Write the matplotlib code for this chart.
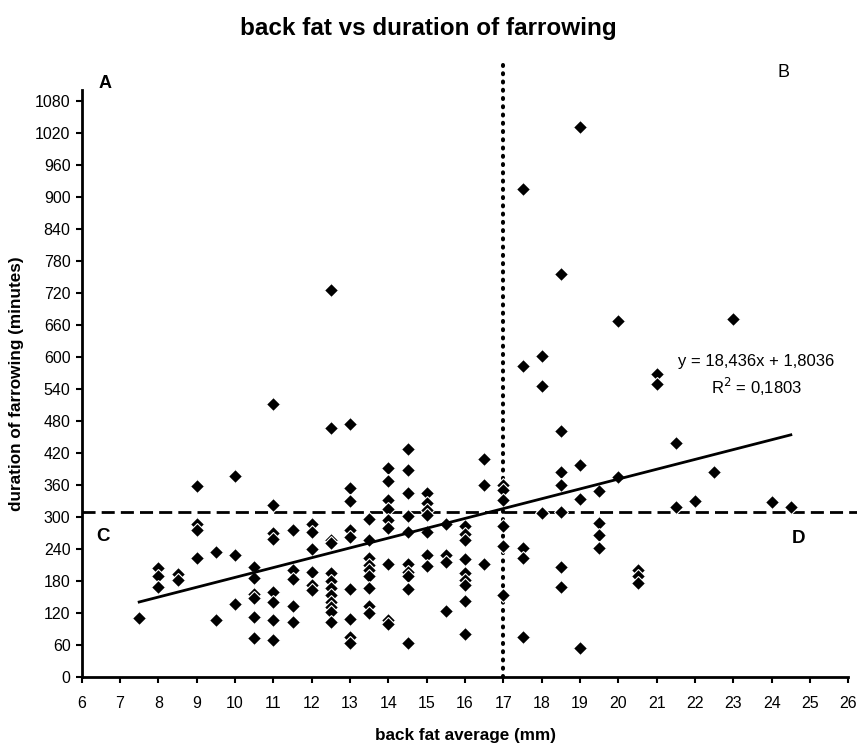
import matplotlib
matplotlib.use("Agg")
import matplotlib.pyplot as plt
import numpy as np

plt.rcParams['font.family'] = ['Liberation Sans', 'DejaVu Sans']

# --- data: back fat (mm) -> duration of farrowing (min) ---
back_fat = (
    [7.5] * 1 + [8.0] * 3 + [8.5] * 2 + [9.0] * 4 + [9.5] * 2 + [10.0] * 3 +
    [10.5] * 6 + [11.0] * 8 + [11.5] * 5 + [12.0] * 6 + [12.5] * 12 +
    [13.0] * 9 + [13.5] * 9 + [14.0] * 9 + [14.5] * 10 + [15.0] * 7 +
    [15.5] * 4 + [16.0] * 9 + [16.5] * 3 + [17.0] * 6 + [17.5] * 5 +
    [18.0] * 3 + [18.5] * 7 + [19.0] * 4 + [19.5] * 4 + [20.0] * 2 +
    [20.5] * 3 + [21.0] * 2 + [21.5] * 2 + [22.0] + [22.5] + [23.0] +
    [24.0] + [24.5]
)
duration = [
    110,
    203, 189, 169,
    192, 181,
    358, 286, 276, 223,
    233, 106,
    376, 228, 136,
    205, 186, 156, 147, 112, 72,
    512, 322, 269, 259, 159, 141, 106, 69,
    275, 201, 184, 132, 103,
    287, 272, 240, 196, 172, 162,
    725, 467, 256, 250, 195, 180, 166, 153, 141, 131, 122, 103,
    473, 353, 330, 275, 262, 164, 109, 75, 64,
    296, 256, 222, 209, 200, 188, 166, 132, 119,
    391, 366, 331, 314, 294, 278, 211, 107, 98,
    426, 388, 344, 301, 272, 211, 197, 189, 164, 64,
    345, 325, 312, 303, 272, 228, 208,
    287, 228, 216, 124,
    283, 267, 256, 221, 195, 181, 172, 142, 81,
    409, 359, 212,
    359, 350, 331, 283, 245, 153,
    915, 583, 241, 223, 75,
    601, 545, 307,
    755, 461, 383, 359, 309, 205, 169,
    1030, 397, 333, 54,
    348, 289, 266, 241,
    666, 375,
    200, 188, 176,
    568, 549,
    439, 319,
    330,
    384,
    671,
    327,
    318,
]

# linear trend line as printed on the chart
slope, intercept = 18.436, 1.8036
r_squared = 0.1803
trend_x = [min(back_fat), max(back_fat)]

# quadrant split lines
split_x = 17
split_y = 309

x_ticks = list(range(6, 27))
y_ticks = list(range(0, 1081, 60))

fig = plt.figure(figsize=(8.57, 7.47), dpi=100)
ax = fig.add_axes([0.0953, 0.0941, 0.8946, 0.7854])

ax.plot(back_fat, duration, linestyle='none', marker='D', markersize=7,
        markerfacecolor='black', markeredgecolor='white', markeredgewidth=0.8,
        zorder=3)

tx = np.array(trend_x)
ax.plot(tx, slope * tx + intercept, color='black', lw=2.0, zorder=4)

# horizontal dashed and vertical dotted dividers
ax.plot([6, 26.25], [split_y, split_y], color='black', lw=2.0,
        linestyle=(0, (4.7, 2.2)), clip_on=False, zorder=2)
ax.plot([split_x, split_x], [0, 1160], color='black', lw=2.9,
        linestyle=(0, (0.25, 1.8)), dash_capstyle='round',
        clip_on=False, zorder=2)

ax.set_xlim(6, 26)
ax.set_ylim(0, 1100)
ax.set_xticks(x_ticks)
ax.set_yticks(y_ticks)
ax.tick_params(direction='out', length=4, width=1.5, labelsize=11.5,
               colors='black')
ax.tick_params(axis='x', pad=10)
ax.tick_params(axis='y', pad=4)
for s in ['top', 'right']:
    ax.spines[s].set_visible(False)
for s in ['left', 'bottom']:
    ax.spines[s].set_linewidth(2)

ax.set_xlabel('back fat average (mm)', fontsize=12.3, fontweight='bold',
              labelpad=12)
ax.set_ylabel('duration of farrowing (minutes)', fontsize=12.3,
              fontweight='bold', labelpad=8)

# quadrant letters
ax.text(6.6, 1113, 'A', fontsize=13, fontweight='bold', ha='center', va='center')
ax.text(24.3, 1132, 'B', fontsize=13, ha='center', va='center', clip_on=False)
ax.text(6.55, 262, 'C', fontsize=13.5, fontweight='bold', ha='center', va='center')
ax.text(24.7, 259, 'D', fontsize=13.5, fontweight='bold', ha='center', va='center')

ax.text(23.6, 591, f'y = {slope:.3f}x + {intercept:.4f}'.replace('.', ','),
        fontsize=12, ha='center', va='center')
ax.text(23.6, 544, f'R$^2$ = {r_squared:.4f}'.replace('.', ','),
        fontsize=12, ha='center', va='center')

fig.suptitle('back fat vs duration of farrowing', fontsize=17.5,
             fontweight='bold', y=0.9625, va='center')

fig.savefig('out.png', dpi=100)
